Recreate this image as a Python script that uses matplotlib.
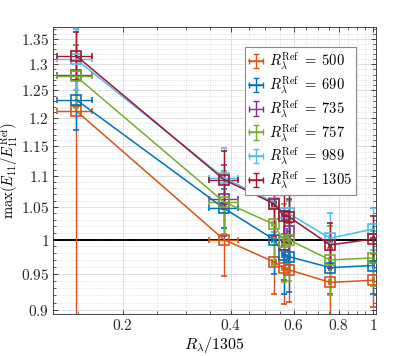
import numpy as np
import matplotlib
matplotlib.use("Agg")
import matplotlib.pyplot as plt
from matplotlib.ticker import FixedLocator, FixedFormatter, NullFormatter

plt.rcParams['mathtext.fontset'] = 'cm'
plt.rcParams['font.family'] = ['DejaVu Serif']

# ---- data ----
x_norm = [0.148, 0.383, 0.529, 0.563, 0.580, 0.758, 1.0]
x_err = [0.0165, 0.036, 0.006, 0.005, 0.005, 0.005, 0.005]

labels = ['500', '690', '735', '757', '989', '1305']
colors = ['#D95319', '#0072BD', '#7E2F8E', '#77AC30', '#4DBEEE', '#A2142F']

y_500 = [1.213, 1.000, 0.967, 0.958, 0.956, 0.938, 0.941]
e_500 = [0.400, 0.053, 0.045, 0.050, 0.045, 0.050, 0.037]

y_690 = [1.233, 1.048, 1.000, 0.977, 0.975, 0.959, 0.962]
e_690 = [0.054, 0.030, 0.050, 0.055, 0.050, 0.037, 0.040]

x_735 = [0.148, 0.383, 0.563, 0.580]
xe_735 = [0.0165, 0.036, 0.005, 0.005]
y_735 = [1.279, 1.062, 0.992, 1.013]
e_735 = [0.058, 0.056, 0.050, 0.050]

y_757 = [1.277, 1.058, 1.023, 0.997, 1.000, 0.970, 0.973]
e_757 = [0.060, 0.050, 0.060, 0.058, 0.060, 0.050, 0.040]

y_989 = [1.310, 1.097, 1.057, 1.040, 1.040, 1.002, 1.016]
e_989 = [0.060, 0.050, 0.045, 0.045, 0.045, 0.038, 0.032]

y_1305 = [1.317, 1.094, 1.055, 1.036, 1.035, 0.992, 1.001]
e_1305 = [0.048, 0.047, 0.050, 0.040, 0.040, 0.033, 0.035]

series = [
    (x_norm, x_err, y_500, e_500, '-'),
    (x_norm, x_err, y_690, e_690, '-'),
    (x_735, xe_735, y_735, e_735, 'none'),
    (x_norm, x_err, y_757, e_757, '-'),
    (x_norm, x_err, y_989, e_989, '-'),
    (x_norm, x_err, y_1305, e_1305, '-'),
]

xticks = [0.2, 0.4, 0.6, 0.8, 1.0]
xticklabels = ['0.2', '0.4', '0.6', '0.8', '1']
yticks = [0.9, 0.95, 1.0, 1.05, 1.1, 1.15, 1.2, 1.25, 1.3, 1.35]
yticklabels = ['0.9', '0.95', '1', '1.05', '1.1', '1.15', '1.2', '1.25', '1.3', '1.35']

# ---- figure ----
fig = plt.figure(figsize=(4.15, 3.56), dpi=100)
ax = fig.add_axes([0.1284, 0.118, 0.7769, 0.807])

handles = []
for (xs, xe, ys, es, ls), lab, c in zip(series, labels, colors):
    ax.errorbar(xs, ys, yerr=es, xerr=xe, color=c, linestyle=ls, lw=1.1,
                marker='s', ms=7, mfc='none', mec=c, mew=1.2,
                elinewidth=1.0, capsize=2, capthick=1.0, zorder=3)
    # legend proxy: errorbar symbol with line, no square marker
    h = ax.errorbar([np.nan], [np.nan], yerr=[0.01], xerr=[0.01], color=c,
                    linestyle=ls, lw=1.1, marker='', elinewidth=1.0,
                    capsize=2, capthick=1.0,
                    label=r'$R_\lambda^{\mathrm{Ref}}\;=\;%s$' % lab)
    handles.append(h)

ax.axhline(1.0, color='k', lw=1.4, zorder=2.5)

ax.set_xscale('log')
ax.set_yscale('log')
ax.set_xlim(0.128, 1.0155)
ax.set_ylim(0.8947, 1.375)

ax.xaxis.set_major_locator(FixedLocator(xticks))
ax.xaxis.set_major_formatter(FixedFormatter(['$%s$' % t for t in xticklabels]))
xminor = [0.15, 0.25, 0.3, 0.35, 0.45, 0.5, 0.55, 0.65, 0.7, 0.75, 0.85, 0.9, 0.95]
ax.xaxis.set_minor_locator(FixedLocator(xminor))
ax.xaxis.set_minor_formatter(NullFormatter())

ax.yaxis.set_major_locator(FixedLocator(yticks))
ax.yaxis.set_major_formatter(FixedFormatter(['$%s$' % t for t in yticklabels]))
yminor = [round(0.90 + 0.01 * i, 2) for i in range(48)]
yminor = [v for v in yminor if round(v * 100) % 5 != 0]
ax.yaxis.set_minor_locator(FixedLocator(yminor))
ax.yaxis.set_minor_formatter(NullFormatter())

ax.tick_params(which='both', direction='in', top=True, right=True,
               colors='#262626', labelsize=11)
ax.tick_params(which='major', length=3.5, width=0.6, pad=3)
ax.tick_params(which='minor', length=2, width=0.5)

ax.grid(which='major', color='#dcdcdc', lw=0.6, linestyle='-')
ax.grid(which='minor', color='#cfcfcf', lw=0.5, linestyle=':')
ax.set_axisbelow(True)
for s in ax.spines.values():
    s.set_color('#262626')
    s.set_linewidth(0.6)

ax.set_xlabel(r'$R_\lambda/1305$', fontsize=11.5, labelpad=1)
ax.set_ylabel(r'$\max(E_{11}/E_{11}^{\mathrm{Ref}})$', fontsize=10.5)
ax.yaxis.set_label_coords(-0.1, 0.5)

leg = ax.legend(handles=handles, loc='upper right', bbox_to_anchor=(0.938, 0.928),
                borderaxespad=0, fontsize=10.5, fancybox=False, framealpha=1,
                edgecolor='#8c8c8c', handlelength=1.0, handletextpad=0.4,
                labelspacing=0.16, borderpad=0.25)
leg.get_frame().set_linewidth(0.8)

fig.savefig('out.png', dpi=100)
